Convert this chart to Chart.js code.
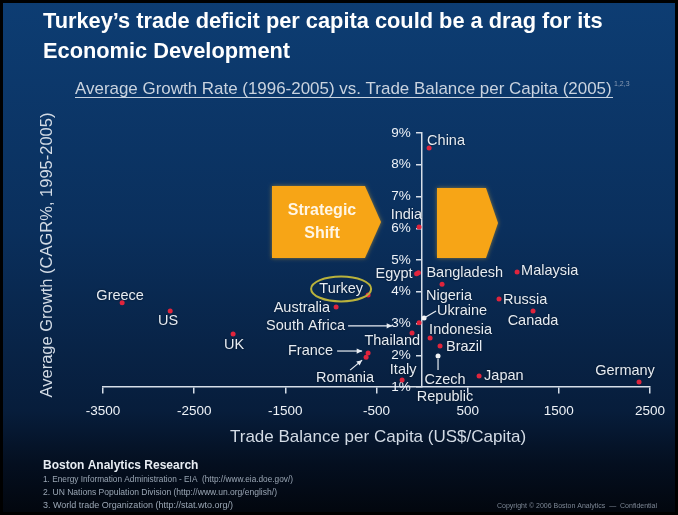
<!DOCTYPE html>
<html>
<head>
<meta charset="utf-8">
<script src="https://cdn.jsdelivr.net/npm/chart.js@4"></script>
<style>
  html, body { margin: 0; padding: 0; background: #000; }
  #wrap { width: 678px; height: 515px; }
</style>
</head>
<body>
<div id="wrap"><canvas id="chart" width="678" height="515"></canvas></div>
<script>
// data
const countries = ["China", "India", "Egypt", "Bangladesh", "Nigeria", "Malaysia", "Russia", "Canada",
  "Ukraine", "South Africa", "Thailand", "Indonesia", "Brazil", "Czech Republic", "Japan", "Germany",
  "Italy", "Turkey", "Australia", "France", "Romania", "UK", "US", "Greece"];
const tradeBalance = [77, -33, -60, -40, 219, 1042, 844, 1217,
  22, -33, -110, 88, 197, 175, 625, 2380,
  -219, -592, -943, -592, -614, -2073, -2763, -3290];
const growth = [8.53, 6.04, 4.57, 4.6, 4.24, 4.62, 3.77, 3.39,
  3.17, 3.02, 2.7, 2.54, 2.29, 1.98, 1.35, 1.16,
  1.22, 3.9, 3.52, 2.07, 1.94, 2.67, 3.39, 3.65];
const xTicks = [-3500, -2500, -1500, -500, 500, 1500, 2500];
const yTicks = [1, 2, 3, 4, 5, 6, 7, 8, 9];

const FONT = "'Liberation Sans', Arial, sans-serif";

// where each label sits relative to its dot (px)
const labelPos = {
  "China": { dx: -2, dy: -7, align: "left" },
  "India": { dx: 3, dy: -12, align: "right" },
  "Egypt": { dx: -4, dy: 0, align: "right" },
  "Bangladesh": { dx: 8, dy: 0, align: "left" },
  "Nigeria": { dx: -16, dy: 12, align: "left" },
  "Malaysia": { dx: 4, dy: -1, align: "left" },
  "Russia": { dx: 4, dy: 1, align: "left" },
  "Canada": { dx: 0, dy: 10, align: "center" },
  "Ukraine": { dx: 13, dy: -7, align: "left" },
  "South Africa": { dx: -74, dy: 3, align: "right" },
  "Thailand": { dx: 8, dy: 8, align: "right" },
  "Indonesia": { dx: -1, dy: -8, align: "left" },
  "Brazil": { dx: 6, dy: 1, align: "left" },
  "Czech Republic": { dx: 7, dy: 24, align: "center", lines: ["Czech", "Republic"] },
  "Japan": { dx: 5, dy: 0, align: "left" },
  "Germany": { dx: -14, dy: -11, align: "center" },
  "Italy": { dx: 1, dy: -10, align: "center" },
  "Turkey": { dx: -5, dy: -6, align: "right" },
  "Australia": { dx: -6, dy: 1, align: "right" },
  "France": { dx: -35, dy: -2, align: "right" },
  "Romania": { dx: -21, dy: 21, align: "center" },
  "UK": { dx: 1, dy: 11, align: "center" },
  "US": { dx: -2, dy: 10, align: "center" },
  "Greece": { dx: -2, dy: -7, align: "center" }
};

// leader lines / arrows relative to the dot
const leaders = {
  "Ukraine": { x1: 0, y1: 0, x2: 12, y2: -7 },
  "South Africa": { x1: -71, y1: 3, x2: -27, y2: 3, arrow: true },
  "France": { x1: -31, y1: -2, x2: -6, y2: -2, arrow: true },
  "Romania": { x1: -16, y1: 13, x2: -4, y2: 3, arrow: true },
  "Czech Republic": { x1: 0, y1: 14, x2: 0, y2: 3 }
};

const whiteDots = ["Ukraine", "Czech Republic"];

function arrowHead(ctx, x1, y1, x2, y2) {
  const a = Math.atan2(y2 - y1, x2 - x1);
  ctx.beginPath();
  ctx.moveTo(x2, y2);
  ctx.lineTo(x2 - 6 * Math.cos(a - 0.45), y2 - 6 * Math.sin(a - 0.45));
  ctx.lineTo(x2 - 6 * Math.cos(a + 0.45), y2 - 6 * Math.sin(a + 0.45));
  ctx.closePath();
  ctx.fill();
}

function pentagon(ctx, pts, color) {
  ctx.save();
  ctx.shadowColor = "rgba(255,190,40,0.5)";
  ctx.shadowBlur = 4;
  ctx.fillStyle = color;
  ctx.beginPath();
  pts.forEach((p, i) => i ? ctx.lineTo(p[0], p[1]) : ctx.moveTo(p[0], p[1]));
  ctx.closePath();
  ctx.fill();
  ctx.restore();
}

// pick a font size so the text spans the given width
function fitFont(ctx, text, weight, width) {
  ctx.font = weight + "20px " + FONT;
  const size = 20 * width / ctx.measureText(text).width;
  ctx.font = weight + size.toFixed(2) + "px " + FONT;
}

const slidePlugin = {
  id: "slide",
  beforeDraw(chart) {
    const ctx = chart.ctx;
    const W = chart.width, H = chart.height;
    ctx.save();
    const g = ctx.createLinearGradient(0, 0, 0, H);
    g.addColorStop(0, "#0d3d73");
    g.addColorStop(0.45, "#0a2f5c");
    g.addColorStop(0.8, "#071d3b");
    g.addColorStop(0.9, "#040f20");
    g.addColorStop(1, "#02060d");
    ctx.fillStyle = g;
    ctx.fillRect(0, 0, W, H);
    ctx.strokeStyle = "#000";
    ctx.lineWidth = 3;
    ctx.strokeRect(1.5, 1.5, W - 3, H - 3);

    // title
    ctx.fillStyle = "#ffffff";
    ctx.textBaseline = "middle";
    ctx.textAlign = "left";
    const t1 = "Turkey\u2019s trade deficit per capita could be a drag for its";
    fitFont(ctx, t1, "bold ", 560);
    ctx.fillText(t1, 43, 22);
    ctx.fillText("Economic Development", 43, 52);

    // subtitle
    ctx.fillStyle = "#c9d3df";
    const sub = "Average Growth Rate (1996-2005) vs. Trade Balance per Capita (2005)";
    fitFont(ctx, sub, "", 537);
    ctx.fillText(sub, 75, 89);
    ctx.fillRect(75, 97, 538, 1);
    ctx.font = "7px " + FONT;
    ctx.fillStyle = "#8a9bb3";
    ctx.fillText("1,2,3", 614, 84);

    // axis titles
    ctx.fillStyle = "#d3dbe5";
    ctx.font = "17px " + FONT;
    ctx.textAlign = "center";
    ctx.fillText("Trade Balance per Capita (US$/Capita)", 378, 437);
    ctx.font = "16.5px " + FONT;
    ctx.save();
    ctx.translate(47, 255);
    ctx.rotate(-Math.PI / 2);
    ctx.fillText("Average Growth (CAGR%, 1995-2005)", 0, 0);
    ctx.restore();

    // footer
    ctx.textAlign = "left";
    ctx.fillStyle = "#e8edf3";
    ctx.font = "bold 12px " + FONT;
    ctx.fillText("Boston Analytics Research", 43, 466);
    ctx.fillStyle = "#9aa6b4";
    ctx.font = "9px " + FONT;
    ctx.fillText("1. Energy Information Administration - EIA  (http://www.eia.doe.gov/)", 43, 480, 250);
    ctx.fillText("2. UN Nations Population Division (http://www.un.org/english/)", 43, 493, 234);
    ctx.fillText("3. World trade Organization (http://stat.wto.org/)", 43, 506, 190);
    ctx.font = "7px " + FONT;
    ctx.fillStyle = "#7d8795";
    ctx.fillText("Copyright \u00a9 2006 Boston Analytics  \u2014  Confidential", 497, 506, 185);

    // strategic shift arrows
    pentagon(ctx, [[272, 186], [365, 186], [381, 222], [365, 258], [272, 258]], "#f7a516");
    pentagon(ctx, [[437, 188], [486, 188], [498, 223], [486, 258], [437, 258]], "#f7a516");
    ctx.fillStyle = "#fff6e6";
    ctx.font = "bold 16px " + FONT;
    ctx.textAlign = "center";
    ctx.fillText("Strategic", 322, 211);
    ctx.fillText("Shift", 322, 234);
    ctx.restore();
  },
  afterDatasetsDraw(chart) {
    const ctx = chart.ctx;
    const meta = chart.getDatasetMeta(0);
    ctx.save();
    ctx.textBaseline = "middle";
    ctx.font = "14.5px " + FONT;
    countries.forEach((name, i) => {
      const pt = meta.data[i];
      const p = labelPos[name];
      const ld = leaders[name];
      if (ld) {
        ctx.strokeStyle = "#e8edf3";
        ctx.fillStyle = "#e8edf3";
        ctx.lineWidth = 1.2;
        ctx.beginPath();
        ctx.moveTo(pt.x + ld.x1, pt.y + ld.y1);
        ctx.lineTo(pt.x + ld.x2, pt.y + ld.y2);
        ctx.stroke();
        if (ld.arrow) arrowHead(ctx, pt.x + ld.x1, pt.y + ld.y1, pt.x + ld.x2, pt.y + ld.y2);
      }
      if (name === "Turkey") {
        ctx.strokeStyle = "#b9b23c";
        ctx.lineWidth = 2;
        ctx.beginPath();
        ctx.ellipse(pt.x - 27, pt.y - 6, 30, 12.5, 0, 0, Math.PI * 2);
        ctx.stroke();
      }
      ctx.shadowColor = "rgba(0,0,0,0.6)";
      ctx.shadowBlur = 2;
      ctx.fillStyle = "#e6ecf3";
      ctx.textAlign = p.align;
      const lines = p.lines || [name];
      lines.forEach((t, k) => ctx.fillText(t, pt.x + p.dx, pt.y + p.dy + k * 17));
      ctx.shadowBlur = 0;
    });
    ctx.restore();
  }
};

const points = countries.map((c, i) => ({ x: tradeBalance[i], y: growth[i] }));
const axisColor = "#d6dee8";

new Chart(document.getElementById("chart"), {
  type: "scatter",
  data: {
    datasets: [{
      label: "Countries",
      data: points,
      pointRadius: 2.5,
      pointBorderWidth: 0,
      pointBackgroundColor: countries.map(c => whiteDots.includes(c) ? "#f2f4f7" : "#e0243c")
    }]
  },
  options: {
    responsive: false,
    animation: false,
    layout: { padding: { left: 103, right: 28, top: 133, bottom: 128 } },
    plugins: { legend: { display: false }, tooltip: { enabled: false } },
    scales: {
      x: {
        type: "linear",
        min: -3500, max: 2500,
        position: { y: 1 },
        afterBuildTicks: s => { s.ticks = xTicks.map(v => ({ value: v })); },
        grid: { drawOnChartArea: false, color: axisColor, tickLength: 6, lineWidth: 1.5 },
        border: { color: axisColor, width: 1.5 },
        ticks: { color: "#eef2f7", font: { family: FONT, size: 13.5 }, padding: 10, maxRotation: 0, callback: v => String(v) }
      },
      y: {
        type: "linear",
        min: 1, max: 9,
        position: { x: 0 },
        afterBuildTicks: s => { s.ticks = yTicks.map(v => ({ value: v })); },
        grid: { drawOnChartArea: false, color: axisColor, tickLength: 5, lineWidth: 1.5 },
        border: { color: axisColor, width: 1.5 },
        // labels of an axis placed at x = 0 get no padding, so pad with spaces
        ticks: { color: "#eef2f7", font: { family: FONT, size: 13.5 }, callback: v => v + "%   " }
      }
    }
  },
  plugins: [slidePlugin]
});
</script>
</body>
</html>
